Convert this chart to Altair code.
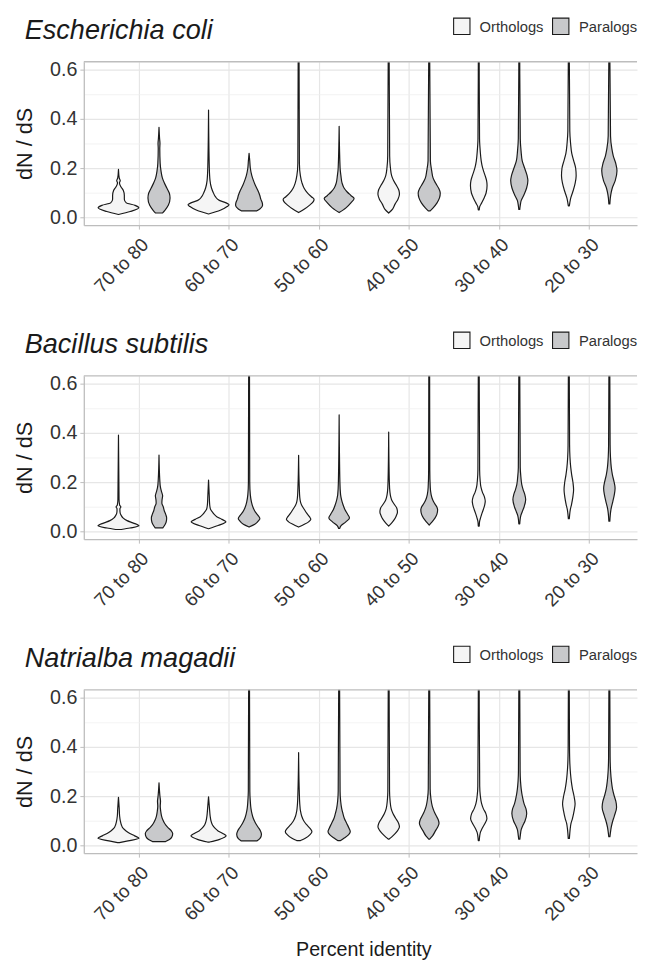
import altair as alt
import pandas as pd

categories = ["70 to 80", "60 to 70", "50 to 60", "40 to 50", "30 to 40", "20 to 30"]
groups = ["Orthologs", "Paralogs"]
species = ["Escherichia coli", "Bacillus subtilis", "Natrialba magadii"]
y_ticks = [0.0, 0.1, 0.2, 0.3, 0.4, 0.5, 0.6]

# Violin outlines: (dN/dS, relative half-width), one list per percent-identity bin
ECOLI_ORTH = [
    [(0.013, 0), (0.025, 12), (0.04, 20.8), (0.05, 17), (0.06, 8), (0.075, 6), (0.09, 6), (0.11, 5), (0.125, 2.5), (0.14, 1), (0.15, 1.8), (0.16, 0.8), (0.195, 0)],
    [(0.015, 0), (0.03, 12), (0.045, 19), (0.052, 21), (0.06, 18), (0.07, 11), (0.085, 7), (0.1, 5), (0.12, 3), (0.15, 1.5), (0.2, 0.8), (0.435, 0)],
    [(0.021, 0), (0.035, 6), (0.05, 11), (0.065, 15), (0.075, 15.8), (0.085, 13), (0.1, 9), (0.12, 5.5), (0.14, 3.5), (0.17, 1.8), (0.22, 0.8), (0.7, 0.4)],
    [(0.019, 0), (0.035, 4), (0.055, 6.5), (0.075, 9.5), (0.095, 11), (0.11, 10.5), (0.13, 8), (0.15, 5), (0.17, 3), (0.2, 1.8), (0.25, 1), (0.7, 0.4)],
    [(0.032, 0.5), (0.045, 1), (0.06, 3), (0.08, 5.5), (0.1, 7.5), (0.13, 8.5), (0.15, 8), (0.17, 6.5), (0.2, 4), (0.23, 2.5), (0.27, 1.5), (0.32, 0.8), (0.7, 0.4)],
    [(0.048, 0.5), (0.06, 1), (0.08, 2), (0.11, 4.5), (0.14, 6.5), (0.17, 7.5), (0.2, 7), (0.23, 5), (0.26, 3), (0.3, 1.8), (0.35, 1), (0.7, 0.4)],
]
ECOLI_PARA = [
    [(0.019, 3.5), (0.03, 6), (0.05, 9.5), (0.08, 11.3), (0.1, 10.5), (0.12, 8), (0.14, 5.5), (0.16, 3.5), (0.19, 2), (0.22, 1.2), (0.28, 0.8), (0.3, 1.0), (0.32, 0.6), (0.365, 0)],
    [(0.028, 8), (0.035, 11), (0.05, 13.8), (0.06, 13.5), (0.075, 12), (0.09, 11), (0.11, 9), (0.13, 6.5), (0.15, 4.5), (0.17, 2.8), (0.2, 1.3), (0.23, 0.7), (0.26, 0)],
    [(0.021, 0), (0.04, 7), (0.06, 12), (0.078, 15.3), (0.09, 12), (0.105, 8), (0.12, 5), (0.14, 3), (0.17, 1.8), (0.2, 1), (0.369, 0)],
    [(0.028, 1), (0.04, 4), (0.06, 8), (0.08, 10.5), (0.1, 11.3), (0.12, 9.5), (0.14, 6.5), (0.16, 4), (0.19, 2.5), (0.23, 1.2), (0.7, 0.4)],
    [(0.034, 0.5), (0.05, 1), (0.07, 2), (0.09, 4.5), (0.12, 7.5), (0.15, 8.8), (0.17, 8), (0.2, 5.5), (0.23, 3), (0.27, 1.8), (0.32, 1), (0.7, 0.4)],
    [(0.056, 0.5), (0.08, 1), (0.1, 1.8), (0.12, 3), (0.15, 6), (0.19, 7.8), (0.22, 6.5), (0.25, 4), (0.28, 2.5), (0.33, 1.2), (0.7, 0.4)],
]
BSUB_ORTH = [
    [(0.009, 3), (0.015, 12), (0.024, 21.5), (0.03, 19), (0.036, 15), (0.045, 9), (0.055, 5), (0.065, 3), (0.08, 1.6), (0.093, 1.5), (0.1, 2.5), (0.108, 1.2), (0.13, 0.6), (0.39, 0)],
    [(0.012, 0), (0.025, 10), (0.04, 18.2), (0.05, 14), (0.06, 9), (0.07, 6), (0.08, 4), (0.09, 2.2), (0.1, 1.5), (0.12, 1), (0.14, 0.8), (0.209, 0)],
    [(0.019, 0), (0.03, 6), (0.04, 10.5), (0.05, 12.8), (0.06, 11.5), (0.075, 8.5), (0.09, 6), (0.105, 3.5), (0.12, 2), (0.14, 1.2), (0.18, 0.7), (0.309, 0)],
    [(0.023, 0), (0.035, 3), (0.05, 6), (0.065, 8), (0.08, 9.2), (0.095, 8.5), (0.11, 6), (0.125, 3.5), (0.14, 2.2), (0.16, 1.3), (0.2, 0.7), (0.403, 0)],
    [(0.023, 0.5), (0.04, 0.8), (0.055, 1.8), (0.07, 3), (0.09, 4.8), (0.11, 6.3), (0.123, 6.8), (0.14, 6), (0.16, 3.8), (0.18, 2.3), (0.21, 1.4), (0.25, 0.9), (0.7, 0.4)],
    [(0.053, 0.5), (0.07, 0.9), (0.09, 1.6), (0.11, 2.8), (0.14, 4.2), (0.17, 5), (0.2, 4.3), (0.23, 3), (0.26, 2), (0.3, 1.2), (0.35, 0.8), (0.7, 0.4)],
]
BSUB_PARA = [
    [(0.016, 4), (0.03, 6.5), (0.045, 7.8), (0.056, 8), (0.07, 7), (0.085, 5.5), (0.1, 4.5), (0.115, 3), (0.13, 3.2), (0.145, 3.8), (0.16, 2.8), (0.18, 1.5), (0.21, 0.8), (0.31, 0)],
    [(0.019, 0), (0.03, 6), (0.045, 10), (0.053, 11.3), (0.065, 9.5), (0.08, 6.5), (0.1, 4), (0.12, 2.5), (0.15, 1.3), (0.2, 0.7), (0.7, 0.4)],
    [(0.013, 0.5), (0.025, 2), (0.04, 7), (0.056, 10.8), (0.07, 9), (0.09, 6), (0.11, 4), (0.13, 2.5), (0.15, 1.5), (0.2, 0.8), (0.472, 0)],
    [(0.027, 0), (0.04, 3), (0.055, 6), (0.07, 8), (0.089, 8.8), (0.1, 8), (0.115, 5.5), (0.13, 3.5), (0.15, 2), (0.18, 1.1), (0.25, 0.6), (0.7, 0.4)],
    [(0.032, 0.5), (0.05, 0.9), (0.065, 1.6), (0.08, 3), (0.1, 5), (0.13, 6.7), (0.15, 5.8), (0.17, 4), (0.19, 2.6), (0.22, 1.7), (0.26, 1), (0.7, 0.4)],
    [(0.043, 0.5), (0.065, 0.9), (0.085, 1.5), (0.1, 2.2), (0.12, 3.5), (0.15, 5.2), (0.176, 6), (0.2, 5), (0.23, 3.2), (0.26, 2), (0.3, 1.2), (0.35, 0.8), (0.7, 0.4)],
]
NMAG_ORTH = [
    [(0.013, 1), (0.02, 10), (0.03, 21.6), (0.04, 17), (0.05, 12), (0.06, 8), (0.07, 5), (0.085, 3), (0.1, 2), (0.12, 1.2), (0.15, 0.8), (0.196, 0)],
    [(0.015, 1), (0.025, 11), (0.04, 18.5), (0.05, 15), (0.06, 10), (0.07, 7), (0.085, 4), (0.1, 2.6), (0.12, 1.7), (0.15, 1), (0.198, 0)],
    [(0.021, 2), (0.03, 7), (0.045, 12), (0.057, 14), (0.07, 12), (0.085, 8.5), (0.1, 5.5), (0.12, 3.2), (0.14, 2), (0.17, 1.2), (0.22, 0.7), (0.376, 0)],
    [(0.027, 0.5), (0.035, 3), (0.05, 7), (0.065, 10), (0.077, 11.3), (0.09, 10.5), (0.11, 7.5), (0.13, 4.5), (0.15, 2.6), (0.18, 1.5), (0.22, 0.9), (0.7, 0.4)],
    [(0.021, 0.5), (0.04, 1), (0.055, 1.8), (0.07, 3.5), (0.09, 6.5), (0.11, 8.6), (0.13, 7.5), (0.15, 4.8), (0.17, 3), (0.2, 1.7), (0.24, 1), (0.7, 0.4)],
    [(0.03, 0.6), (0.05, 1), (0.07, 1.5), (0.09, 2.3), (0.11, 3.8), (0.14, 5.5), (0.17, 6.6), (0.2, 5.5), (0.23, 3.8), (0.26, 2.6), (0.29, 1.8), (0.33, 1.1), (0.4, 0.7), (0.7, 0.4)],
]
NMAG_PARA = [
    [(0.017, 7), (0.025, 11), (0.035, 13.5), (0.05, 14.4), (0.06, 13), (0.075, 9), (0.09, 6), (0.105, 4), (0.12, 2.7), (0.14, 1.8), (0.16, 1.3), (0.18, 1.6), (0.2, 1), (0.254, 0)],
    [(0.02, 8.5), (0.03, 11.5), (0.046, 13), (0.06, 12), (0.075, 9.5), (0.09, 7), (0.11, 4.5), (0.13, 3), (0.15, 2), (0.18, 1.3), (0.22, 0.8), (0.7, 0.4)],
    [(0.021, 1.5), (0.03, 5), (0.045, 10), (0.057, 11.7), (0.07, 10.5), (0.09, 8), (0.11, 5.5), (0.13, 4), (0.15, 2.7), (0.18, 1.6), (0.22, 1), (0.7, 0.4)],
    [(0.027, 0.5), (0.04, 3.5), (0.06, 6.5), (0.075, 8.8), (0.09, 10.3), (0.105, 9.5), (0.12, 7.5), (0.14, 5), (0.16, 3.2), (0.19, 1.8), (0.23, 1), (0.7, 0.4)],
    [(0.027, 0.6), (0.045, 1.2), (0.065, 2), (0.08, 3.5), (0.1, 6), (0.13, 7.8), (0.15, 7), (0.17, 5), (0.2, 3.2), (0.23, 2), (0.26, 1.3), (0.3, 0.9), (0.7, 0.4)],
    [(0.037, 0.6), (0.055, 1.2), (0.075, 2), (0.095, 3.2), (0.12, 5.2), (0.156, 7.6), (0.18, 6.8), (0.2, 5.2), (0.23, 3.3), (0.26, 2.2), (0.3, 1.3), (0.36, 0.8), (0.7, 0.4)],
]

VIOLINS = {
    "Escherichia coli": {"Orthologs": ECOLI_ORTH, "Paralogs": ECOLI_PARA},
    "Bacillus subtilis": {"Orthologs": BSUB_ORTH, "Paralogs": BSUB_PARA},
    "Natrialba magadii": {"Orthologs": NMAG_ORTH, "Paralogs": NMAG_PARA},
}

DODGE = 0.225      # half of the dodge width 0.9
MAXHALF = 0.228    # widest violin of each panel fills its dodge slot
PLOT_W = 562
PLOT_H = 166
X_MIN = -0.61
X_MAX = X_MIN + PLOT_W / 91.5
LINE = "#1a1a1a"
BORDER = "#bdbdbd"
FONT = "Liberation Sans"
FILLS = ["#f5f5f5", "#c8c9cb"]

rows = []
for sp in species:
    wmax = max(w for g in groups for v in VIOLINS[sp][g] for _, w in v)
    for gi, g in enumerate(groups):
        for ci, knots in enumerate(VIOLINS[sp][g]):
            centre = ci + (-DODGE if gi == 0 else DODGE)
            for yv, w in knots:
                hw = MAXHALF * w / wmax
                rows.append({"species": sp, "group": g, "vid": f"{ci}-{g}",
                             "val": yv, "lo": centre - hw, "hi": centre + hw})
df = pd.DataFrame(rows)

label_expr = "[" + ",".join(f"'{c}'" for c in categories) + "][datum.value]"
minor_test = "round(datum.value*10) % 2 == 1"
fill_scale = alt.Scale(domain=groups, range=FILLS)

# legend key placement (pixels relative to the plot's top-left corner)
KEY_Y = -36
KEY_SQ_X = [384, 484.5]
KEY_TX_X = [402, 503]


def legend_layers():
    layers = []
    for gi, g in enumerate(groups):
        src = pd.DataFrame({"group": [g]})
        layers.append(alt.Chart(src).mark_square(
            size=276, stroke=LINE, strokeWidth=1.1, opacity=1, fillOpacity=1
        ).encode(x=alt.value(KEY_SQ_X[gi]), y=alt.value(KEY_Y),
                 fill=alt.Fill("group:N", scale=fill_scale, legend=None)))
        layers.append(alt.Chart(src).mark_text(
            align="left", baseline="middle", fontSize=15, font=FONT, color="#333333"
        ).encode(x=alt.value(KEY_TX_X[gi]), y=alt.value(KEY_Y + 1), text="group:N"))
    return layers


def panel(sp, last):
    d = df[df.species == sp]
    violins = alt.Chart(d).mark_area(
        orient="horizontal", interpolate="monotone", stroke=LINE,
        strokeWidth=1.2, clip=True, strokeJoin="round"
    ).encode(
        y=alt.Y("val:Q", scale=alt.Scale(domain=[-0.03, 0.63], nice=False, zero=False),
                axis=alt.Axis(values=y_ticks, title="dN / dS",
                              labelExpr=f"{minor_test} ? '' : format(datum.value, '.1f')",
                              gridColor={"condition": {"test": minor_test, "value": "#f0f0f0"}, "value": "#e6e6e6"},
                              gridWidth={"condition": {"test": minor_test, "value": 0.8}, "value": 1.2},
                              tickOpacity={"condition": {"test": minor_test, "value": 0}, "value": 1},
                              labelFontSize=20, titleFontSize=22, labelColor="#333333",
                              titleColor="#1a1a1a", titleFontWeight="normal", labelFont=FONT,
                              titleFont=FONT, tickColor=BORDER, tickSize=4, labelPadding=3,
                              domainColor=BORDER, domainWidth=1.3, titlePadding=13)),
        x=alt.X("lo:Q", stack=None,
                scale=alt.Scale(domain=[X_MIN, X_MAX], nice=False, zero=False),
                axis=alt.Axis(values=[0, 1, 2, 3, 4, 5], labelExpr=label_expr,
                              title="Percent identity" if last else None,
                              labelAngle=-45, labelAlign="right", labelBaseline="top",
                              labelFontSize=19, labelColor="#333333", labelFont=FONT,
                              titleFont=FONT, titleFontSize=20, titleFontWeight="normal",
                              titleColor="#1a1a1a", gridColor="#e6e6e6", gridWidth=1.2,
                              tickColor=BORDER, tickSize=4, labelPadding=6,
                              domainColor=BORDER, domainWidth=1.3, titlePadding=16,
                              titleX=284)),
        x2="hi:Q",
        detail="vid:N",
        fill=alt.Fill("group:N", scale=fill_scale, legend=None),
    )
    top = alt.Chart(pd.DataFrame({"a": [0]})).mark_rule(color=BORDER, strokeWidth=1.3).encode(
        x=alt.value(0), x2=alt.value(PLOT_W), y=alt.value(0))
    name = alt.Chart(pd.DataFrame({"name": [sp]})).mark_text(
        align="left", baseline="alphabetic", fontStyle="italic", fontSize=27.5,
        font=FONT, color="#1a1a1a"
    ).encode(text="name:N", x=alt.value(-60), y=alt.value(-23))
    return alt.layer(violins, top, name, *legend_layers()).properties(width=PLOT_W, height=PLOT_H)


chart = alt.vconcat(
    panel(species[0], False), panel(species[1], False), panel(species[2], True),
    spacing=153, bounds="flush"
).configure_view(
    stroke=None
).properties(padding={"left": 6, "right": 0, "top": 0, "bottom": 0}, background="white")

chart.save("out.html", embed_options={"renderer": "svg", "actions": False})
